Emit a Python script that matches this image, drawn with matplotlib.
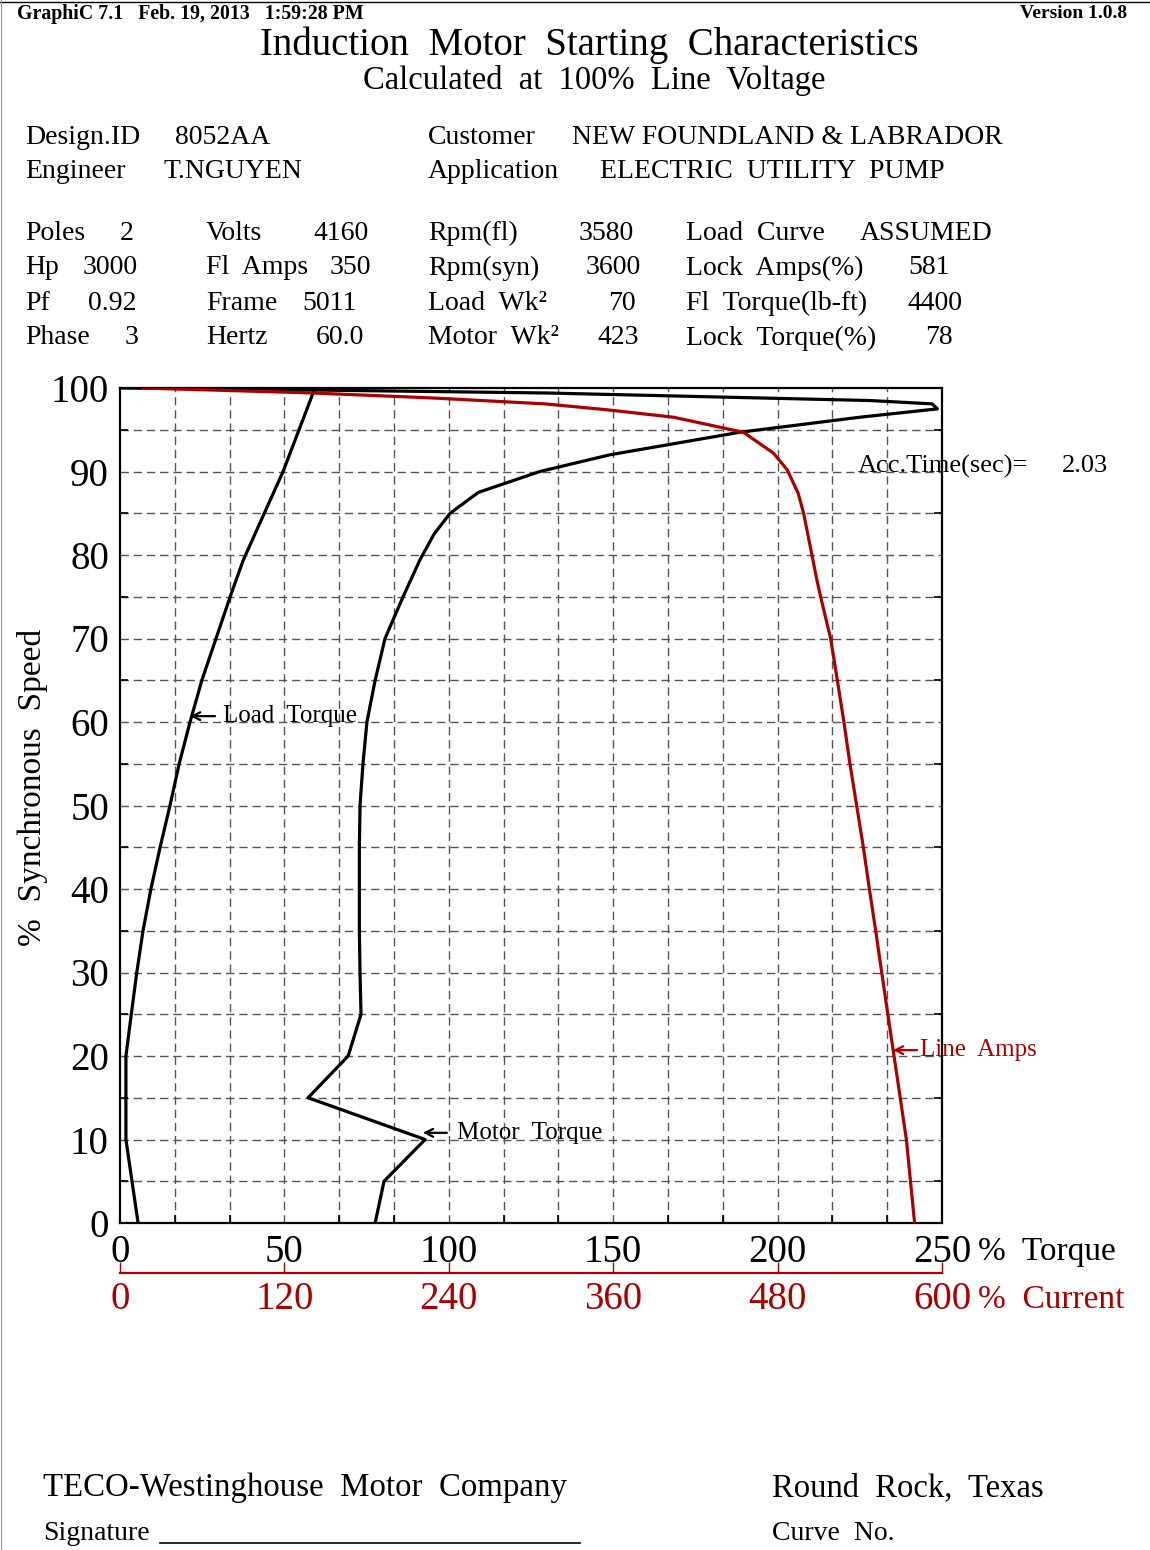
import numpy as np
import matplotlib
matplotlib.use('Agg')
import matplotlib.pyplot as plt

plt.rcParams['font.family'] = ['Liberation Serif', 'DejaVu Serif']

RED = '#aa0000'

# --- data ---
# motor torque (% of full load torque) vs % synchronous speed
motor_speed = [0, 5, 10, 15, 20, 25, 30, 35, 40, 45, 50, 55, 60, 65, 70, 75, 79.4,
               82.5, 85, 87.5, 90, 92, 94.7, 96.5, 97.5, 98.1, 98.5, 99.4, 99.76, 100]
motor_torque = [77.6, 80.3, 92.8, 57.2, 69.4, 73.3, 73.0, 72.8, 72.8, 72.8, 73.0, 73.9,
                75.1, 77.6, 80.6, 86.1, 91.2, 95.5, 100.4, 109, 127.7, 149, 188.5,
                225, 248.6, 247, 228, 130, 59, 0]

# load torque (% of full load torque)
load_speed = [0, 10, 20, 25.5, 30, 35, 40, 45, 50, 55, 60, 65, 70, 75, 79.4, 90, 100]
load_torque = [5.5, 1.8, 1.8, 3.6, 5.1, 7.0, 9.4, 12.2, 15.2, 18.0, 21.3, 24.9,
               29.2, 33.5, 37.5, 49.6, 59.3]

# line amps (% of full load amps)
amps_speed = [0, 10, 20, 25.5, 30, 35, 40, 45, 50, 55, 60, 65, 70, 75, 77, 85,
              87.4, 90.2, 92.2, 94.7, 96.5, 97.4, 98.1, 98.8, 99.4, 100]
amps_pct = [580, 574, 565, 560, 556, 551.6, 547, 542.6, 537.7, 532.8, 528.4, 523.6,
            518.7, 511.4, 508.7, 499, 495, 487, 477, 455, 404, 355, 310, 229, 141, 17]

torque_ticks = [0, 50, 100, 150, 200, 250]
current_ticks = [0, 120, 240, 360, 480, 600]
speed_ticks = [0, 10, 20, 30, 40, 50, 60, 70, 80, 90, 100]

fig = plt.figure(figsize=(11.5, 15.5), dpi=100)
W, H = 1150, 1550


def px(x, y):
    # pixel position (from top-left) -> figure fraction
    return x / W, 1 - y / H


ax = fig.add_axes([120 / W, 1 - 1223 / H, (942 - 120) / W, (1223 - 388) / H])
ax.set_xlim(0, 250)
ax.set_ylim(0, 100)

# dashed grid
for gx in np.arange(1, 15) * 250 / 15:
    ax.axvline(gx, color='#555555', lw=1.0, ls=(0, (6, 3.5)), zorder=1)
for gy in np.arange(5, 100, 5):
    ax.axhline(gy, color='#555555', lw=1.0, ls=(0, (6, 3.5)), zorder=1)

ax.plot(load_torque, load_speed, color='black', lw=2.3, zorder=3)
ax.plot(motor_torque, motor_speed, color='black', lw=2.3, zorder=3)
ax.plot(np.array(amps_pct) * 250 / 600, amps_speed, color=RED, lw=2.3, zorder=3)

for s in ax.spines.values():
    s.set_linewidth(1.6)
ax.set_xticks(torque_ticks)
ax.set_yticks(speed_ticks)
ax.tick_params(axis='both', length=0, labelsize=28, pad=8)
ax.set_xticks(np.arange(0, 16) * 250 / 15, minor=True)
ax.set_yticks(np.arange(0, 101, 5), minor=True)
ax.tick_params(which='minor', direction='in', length=6, width=1.2,
               top=True, right=True, bottom=True, left=True)

fig.text(*px(33, 787), '%  Synchronous  Speed', fontsize=24, rotation=90,
         va='center', ha='center')

# second (current) scale underneath
ax2 = ax.twiny()
ax2.set_xlim(0, 600)
ax2.xaxis.set_ticks_position('bottom')
ax2.xaxis.set_label_position('bottom')
for k in ['top', 'left', 'right']:
    ax2.spines[k].set_visible(False)
ax2.spines['bottom'].set_position(('outward', 36))
ax2.spines['bottom'].set_color(RED)
ax2.spines['bottom'].set_linewidth(1.6)
ax2.set_xticks(current_ticks)
ax2.tick_params(axis='x', direction='in', length=8, width=1.0, color=RED,
                labelcolor=RED, labelsize=28, pad=6)

# curve labels with arrows
arrow = dict(arrowstyle='->', lw=1.6, shrinkA=0, shrinkB=0,
             mutation_scale=14)
ax.annotate('', xy=(21.3, 60.7), xytext=(28.9, 60.7), arrowprops=arrow)
ax.text(31.3, 60.7, 'Load  Torque', fontsize=18, va='center', ha='left')
ax.annotate('', xy=(92.1, 10.8), xytext=(99.4, 10.8), arrowprops=arrow)
ax.text(102.5, 10.8, 'Motor  Torque', fontsize=18, va='center', ha='left')
ax.annotate('', xy=(235.1, 20.7), xytext=(242.4, 20.7),
            arrowprops=dict(arrow, color=RED))
ax.text(243.3, 20.7, 'Line  Amps', fontsize=18, va='center', ha='left',
        color=RED, clip_on=False)

fig.text(*px(858, 466), 'Acc.Time(sec)=', fontsize=19, va='center', ha='left')
fig.text(*px(1108, 466), '2.03', fontsize=19, va='center', ha='right')

fig.text(*px(978, 1252), '%  Torque', fontsize=24, va='center', ha='left')
fig.text(*px(978, 1300), '%  Current', fontsize=24, va='center', ha='left', color=RED)

# header
fig.text(*px(17, 14), 'GraphiC 7.1   Feb. 19, 2013   1:59:28 PM', fontsize=14.3,
         fontweight='bold', va='center', ha='left')
fig.text(*px(1127, 14), 'Version 1.0.8', fontsize=14, fontweight='bold',
         va='center', ha='right')
fig.text(*px(589, 45), 'Induction  Motor  Starting  Characteristics', fontsize=28,
         va='center', ha='center')
fig.text(*px(594, 80), 'Calculated  at  100%  Line  Voltage', fontsize=23.5,
         va='center', ha='center')

# design info block
info = [
    (25, 137, 'Design.ID'), (175, 137, '8052AA'),
    (428, 137, 'Customer'), (572, 137, 'NEW FOUNDLAND & LABRADOR'),
    (25, 172, 'Engineer'), (163, 172, 'T.NGUYEN'),
    (428, 172, 'Application'), (600, 172, 'ELECTRIC  UTILITY  PUMP'),
    (25, 233, 'Poles'), (120, 233, '2'),
    (25, 268, 'Hp'), (83, 268, '3000'),
    (25, 303, 'Pf'), (88, 303, '0.92'),
    (25, 338, 'Phase'), (125, 338, '3'),
    (206, 233, 'Volts'), (313, 233, '4160'),
    (206, 268, 'Fl  Amps'), (330, 268, '350'),
    (206, 303, 'Frame'), (302, 303, '5011'),
    (206, 338, 'Hertz'), (316, 338, '60.0'),
    (428, 233, 'Rpm(fl)'), (579, 233, '3580'),
    (428, 268, 'Rpm(syn)'), (586, 268, '3600'),
    (428, 303, 'Load  Wk\u00b2'), (608, 303, '70'),
    (428, 338, 'Motor  Wk\u00b2'), (598, 338, '423'),
    (686, 233, 'Load  Curve'), (860, 233, 'ASSUMED'),
    (686, 268, 'Lock  Amps(%)'), (908, 268, '581'),
    (686, 303, 'Fl  Torque(lb-ft)'), (908, 303, '4400'),
    (686, 338, 'Lock  Torque(%)'), (925, 338, '78'),
]
for x, y, t in info:
    fig.text(*px(x, y), t, fontsize=20, va='center', ha='left')

# footer
fig.text(*px(43, 1488), 'TECO-Westinghouse  Motor  Company', fontsize=23.7,
         va='center', ha='left')
fig.text(*px(772, 1488), 'Round  Rock,  Texas', fontsize=23.5, va='center', ha='left')
fig.text(*px(43, 1533), 'Signature', fontsize=20, va='center', ha='left')
fig.text(*px(772, 1533), 'Curve  No.', fontsize=20, va='center', ha='left')
fig.add_artist(plt.Line2D([160 / W, 580 / W], [1 - 1543 / H] * 2, color='black', lw=1.2))

# page frame (top and left edges)
fig.add_artist(plt.Line2D([0, 1], [1 - 2 / H] * 2, color='black', lw=1.0))
fig.add_artist(plt.Line2D([1 / W] * 2, [0, 1], color='#999999', lw=0.8))

fig.savefig('out.png', dpi=100)
